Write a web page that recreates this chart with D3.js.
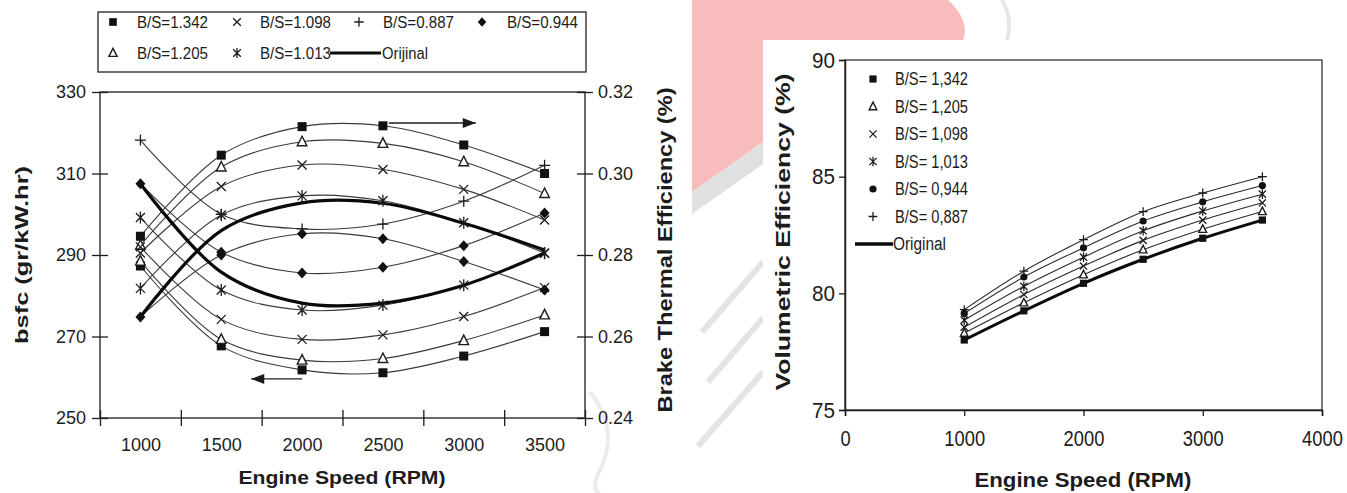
<!DOCTYPE html>
<html><head><meta charset="utf-8">
<script src="https://cdn.jsdelivr.net/npm/d3@7"></script>
<style>body{margin:0;background:#fff}svg{display:block}</style>
</head><body>
<svg id="c" width="1347" height="493"></svg>
<script>
// ---------- DATA ----------
const speeds = [1000, 1500, 2000, 2500, 3000, 3500];
// bsfc (gr/kW.hr), left axis
const bsfc_1342 = [287.3, 267.7, 261.8, 261.1, 265.2, 271.2];
const bsfc_1205 = [288.5, 269.3, 264.2, 264.6, 269.0, 275.3];
const bsfc_1098 = [292.0, 274.2, 269.3, 270.4, 274.9, 282.0];
const bsfc_1013 = [299.2, 281.4, 276.5, 277.7, 282.6, 290.4];
const bsfc_0944 = [307.5, 290.7, 285.6, 287.0, 292.3, 300.3];
const bsfc_0887 = [318.2, 300.0, 296.4, 297.6, 303.2, 312.0];
const bsfc_orig = [307.5, 285.8, 278.2, 278.2, 282.6, 290.5];
// Brake thermal efficiency, right axis
const bte_1342 = [0.2846, 0.3045, 0.3115, 0.3117, 0.3070, 0.3000];
const bte_1205 = [0.2824, 0.3016, 0.3078, 0.3074, 0.3029, 0.2951];
const bte_1098 = [0.2805, 0.2968, 0.3021, 0.3010, 0.2961, 0.2886];
const bte_1013 = [0.2718, 0.2898, 0.2945, 0.2933, 0.2879, 0.2805];
const bte_0944 = [0.2648, 0.2800, 0.2852, 0.2840, 0.2784, 0.2714];
const bte_orig = [0.2648, 0.2860, 0.2928, 0.2927, 0.2878, 0.2812];
const leftYTicks = [250, 270, 290, 310, 330];
const rightYTicks = [0.24, 0.26, 0.28, 0.30, 0.32];

// Volumetric efficiency (%), right chart
const rpm = [1000, 1500, 2000, 2500, 3000, 3500];
const ve_1342 = [78.00, 79.25, 80.43, 81.46, 82.36, 83.14];
const ve_1205 = [78.30, 79.60, 80.80, 81.87, 82.75, 83.51];
const ve_1098 = [78.55, 79.95, 81.17, 82.27, 83.14, 83.88];
const ve_1013 = [78.85, 80.30, 81.55, 82.68, 83.53, 84.25];
const ve_0944 = [79.14, 80.70, 81.95, 83.10, 83.92, 84.62];
const ve_0887 = [79.30, 80.95, 82.30, 83.50, 84.30, 85.00];
const ve_orig = [78.00, 79.25, 80.43, 81.46, 82.36, 83.14];
const veYTicks = [75, 80, 85, 90];
const veXTicks = [0, 1000, 2000, 3000, 4000];

// ---------- HELPERS ----------
const svg = d3.select('#c');
const FF = 'Liberation Sans, Arial, Helvetica, sans-serif';
const FN = 'Liberation Sans Narrow, Arial Narrow, Liberation Sans, Arial, sans-serif';
const INK = '#1c1c1c';

function txt(g, str, x, y, o = {}) {
  const t = g.append('text').attr('x', x).attr('y', y).text(str)
    .attr('font-family', o.ff || FF).attr('font-size', o.fs || 16)
    .attr('font-weight', o.fw || 'normal').attr('text-anchor', o.ta || 'start')
    .attr('fill', o.fill || INK);
  if (o.len) t.attr('textLength', o.len).attr('lengthAdjust', 'spacingAndGlyphs');
  if (o.rot) t.attr('transform', `rotate(${o.rot},${x},${y})`);
  return t;
}

function marker(g, type, x, y, s = 1) {
  const k = s;
  const st = { stroke: INK, 'stroke-width': 1.3, fill: 'none' };
  const ap = (el, a) => { for (const key in a) el.attr(key, a[key]); return el; };
  if (type === 'square') {
    g.append('rect').attr('x', x - 4.5 * k).attr('y', y - 4.5 * k).attr('width', 9 * k).attr('height', 9 * k).attr('fill', '#111');
  } else if (type === 'triangle') {
    ap(g.append('path').attr('d', `M${x},${y - 5.5 * k}L${x + 4.8 * k},${y + 4 * k}L${x - 4.8 * k},${y + 4 * k}Z`), st).attr('fill', '#fff').attr('stroke-width', 1.4);
  } else if (type === 'x') {
    ap(g.append('path').attr('d', `M${x - 4.5 * k},${y - 4.5 * k}L${x + 4.5 * k},${y + 4.5 * k}M${x - 4.5 * k},${y + 4.5 * k}L${x + 4.5 * k},${y - 4.5 * k}`), st);
  } else if (type === 'plus') {
    ap(g.append('path').attr('d', `M${x - 5.5 * k},${y}L${x + 5.5 * k},${y}M${x},${y - 5.5 * k}L${x},${y + 5.5 * k}`), st);
  } else if (type === 'star') {
    ap(g.append('path').attr('d', `M${x - 4.5 * k},${y - 4.5 * k}L${x + 4.5 * k},${y + 4.5 * k}M${x - 4.5 * k},${y + 4.5 * k}L${x + 4.5 * k},${y - 4.5 * k}M${x},${y - 6 * k}L${x},${y + 6 * k}`), st);
  } else if (type === 'diamond') {
    g.append('path').attr('d', `M${x},${y - 5.5 * k}L${x + 5 * k},${y}L${x},${y + 5.5 * k}L${x - 5 * k},${y}Z`).attr('fill', '#111');
  } else if (type === 'circle') {
    g.append('circle').attr('cx', x).attr('cy', y).attr('r', 4.5 * k).attr('fill', '#111');
  }
}

// ---------- WATERMARK (background) ----------
const wm = svg.append('g');
wm.append('path').attr('d', 'M692,0 L948,0 Q972,22 962,44 L763,44 L763,142 L692,192 Z').attr('fill', '#f8bcbc');
wm.append('path').attr('d', 'M692,192 L763,142 L763,164 L692,214 Z').attr('fill', '#e0e0e0');
wm.append('path').attr('d', 'M1002,0 Q1014,20 1006,44').attr('fill', 'none').attr('stroke', '#e6e6e6').attr('stroke-width', 4);
wm.append('path').attr('d', 'M702,332 L763,262 M708,382 L763,318 M698,446 L763,372').attr('stroke', '#e4e4e4').attr('stroke-width', 6).attr('fill', 'none');
wm.append('path').attr('d', 'M590,392 Q620,430 600,470 Q590,490 600,493').attr('stroke', '#ececec').attr('stroke-width', 4).attr('fill', 'none');
// white panels behind texts / right chart
svg.append('rect').attr('x', 648).attr('y', 80).attr('width', 44).attr('height', 352).attr('fill', '#fff');
svg.append('rect').attr('x', 763).attr('y', 40).attr('width', 584).attr('height', 453).attr('fill', '#fff');

// ---------- LEFT CHART ----------
const L = { l: 100, r: 585, t: 92, b: 418 };
const gL = svg.append('g');
const xPt = d3.scalePoint().domain(speeds).range([L.l, L.r]).padding(0.5);
const xEdge = d3.scaleLinear().domain([0, speeds.length]).range([L.l, L.r]);
const yL = d3.scaleLinear().domain([250, 330]).range([L.b, L.t]);
const yR = d3.scaleLinear().domain([0.24, 0.32]).range([L.b, L.t]);

// frame
gL.append('rect').attr('x', L.l).attr('y', L.t).attr('width', L.r - L.l).attr('height', L.b - L.t)
  .attr('fill', 'none').attr('stroke', INK).attr('stroke-width', 1.3);

// left axis
const axL = gL.append('g').attr('transform', `translate(${L.l},0)`)
  .call(d3.axisLeft(yL).tickValues(leftYTicks).tickSize(8).tickPadding(6).tickFormat(d3.format('d')));
axL.selectAll('.tick line').attr('x2', -8).attr('x1', 8).attr('stroke', INK).attr('stroke-width', 1.3);
axL.select('.domain').remove();
axL.selectAll('text').attr('font-family', FF).attr('font-size', 18).attr('fill', INK).attr('x', -14);

// right axis
const axR = gL.append('g').attr('transform', `translate(${L.r},0)`)
  .call(d3.axisRight(yR).tickValues(rightYTicks).tickSize(8).tickPadding(6).tickFormat(d3.format('.2f')));
axR.selectAll('.tick line').attr('x1', -8).attr('x2', 8).attr('stroke', INK).attr('stroke-width', 1.3);
axR.select('.domain').remove();
axR.selectAll('text').attr('font-family', FF).attr('font-size', 18).attr('fill', INK).attr('x', 13);

// bottom ticks at category edges
const axB = gL.append('g').attr('transform', `translate(0,${L.b})`)
  .call(d3.axisBottom(xEdge).tickValues(d3.range(speeds.length + 1)).tickSize(8).tickFormat(''));
axB.selectAll('.tick line').attr('y1', -8).attr('y2', 8).attr('stroke', INK).attr('stroke-width', 1.3);
axB.select('.domain').remove();
const axBL = gL.append('g').attr('transform', `translate(0,${L.b})`)
  .call(d3.axisBottom(xPt).tickSize(0).tickPadding(20));
axBL.select('.domain').remove();
axBL.selectAll('text').attr('font-family', FF).attr('font-size', 18).attr('fill', INK);

// curves
const smooth = d3.curveCatmullRom.alpha(0.5);
const lineL = d3.line().x(d => xPt(d[0])).y(d => yL(d[1])).curve(smooth);
const lineR = d3.line().x(d => xPt(d[0])).y(d => yR(d[1])).curve(smooth);
const zip = arr => speeds.map((s, i) => [s, arr[i]]);
const leftSeries = [
  { b: bsfc_1342, e: bte_1342, m: 'square' },
  { b: bsfc_1205, e: bte_1205, m: 'triangle' },
  { b: bsfc_1098, e: bte_1098, m: 'x' },
  { b: bsfc_1013, e: bte_1013, m: 'star' },
  { b: bsfc_0944, e: bte_0944, m: 'diamond' },
  { b: bsfc_0887, e: null, m: 'plus' }
];
const gC = gL.append('g');
leftSeries.forEach(s => {
  gC.append('path').attr('d', lineL(zip(s.b))).attr('fill', 'none').attr('stroke', '#3a3a3a').attr('stroke-width', 1.1);
  if (s.e) gC.append('path').attr('d', lineR(zip(s.e))).attr('fill', 'none').attr('stroke', '#3a3a3a').attr('stroke-width', 1.1);
});
gC.append('path').attr('d', lineL(zip(bsfc_orig))).attr('fill', 'none').attr('stroke', '#0a0a0a').attr('stroke-width', 3.2);
gC.append('path').attr('d', lineR(zip(bte_orig))).attr('fill', 'none').attr('stroke', '#0a0a0a').attr('stroke-width', 3.2);
leftSeries.forEach(s => {
  speeds.forEach((sp, i) => {
    marker(gC, s.m, xPt(sp), yL(s.b[i]));
    if (s.e) marker(gC, s.m, xPt(sp), yR(s.e[i]));
  });
});

// annotation arrows
const arrow = (x1, x2, y) => {
  gL.append('line').attr('x1', x1).attr('x2', x2).attr('y1', y).attr('y2', y).attr('stroke', INK).attr('stroke-width', 1.4);
  const d = x2 > x1 ? 1 : -1;
  gL.append('path').attr('d', `M${x2},${y}L${x2 - d * 13},${y - 5}L${x2 - d * 13},${y + 5}Z`).attr('fill', INK);
};
arrow(xPt(2500) + 6, xPt(3000) + 12, yR(0.3124));
arrow(xPt(2000), xPt(1500) + 30, yL(259.6));

// axis titles
txt(gL, 'bsfc (gr/kW.hr)', 28, (L.t + L.b) / 2, { fs: 19, fw: 'bold', ta: 'middle', rot: -90, len: 178 });
txt(gL, 'Brake Thermal Efficiency (%)', 672, 250, { fs: 21, fw: 'bold', ta: 'middle', rot: -90, len: 325 });
txt(gL, 'Engine Speed (RPM)', 342, 484, { fs: 19, fw: 'bold', ta: 'middle', len: 207 });

// legend (boxed)
const gLg = gL.append('g');
gLg.append('rect').attr('x', 98).attr('y', 12).attr('width', 488).attr('height', 60).attr('fill', '#fff').attr('stroke', '#333').attr('stroke-width', 1.4);
const legL = [
  { m: 'square', t: 'B/S=1.342', mx: 113, tx: 137, y: 22 },
  { m: 'x', t: 'B/S=1.098', mx: 237, tx: 260, y: 22 },
  { m: 'plus', t: 'B/S=0.887', mx: 359, tx: 383, y: 22 },
  { m: 'diamond', t: 'B/S=0.944', mx: 482, tx: 507, y: 22 },
  { m: 'triangle', t: 'B/S=1.205', mx: 113, tx: 137, y: 53 },
  { m: 'star', t: 'B/S=1.013', mx: 237, tx: 260, y: 53 }
];
legL.forEach(d => {
  marker(gLg, d.m, d.mx, d.y, 0.85);
  txt(gLg, d.t, d.tx, d.y + 6, { fs: 16, len: 71 });
});
gLg.append('line').attr('x1', 330).attr('x2', 381).attr('y1', 53).attr('y2', 53).attr('stroke', '#0a0a0a').attr('stroke-width', 3.2);
txt(gLg, 'Orijinal', 382, 59, { fs: 16, len: 46 });

// ---------- RIGHT CHART ----------
const R = { l: 845, r: 1322, t: 60, b: 410 };
const gR = svg.append('g');
const xV = d3.scaleLinear().domain([0, 4000]).range([R.l, R.r]);
const yV = d3.scaleLinear().domain([75, 90]).range([R.b, R.t]);

gR.append('rect').attr('x', R.l).attr('y', R.t).attr('width', R.r - R.l).attr('height', R.b - R.t)
  .attr('fill', 'none').attr('stroke', '#333').attr('stroke-width', 1.3);
const aVL = gR.append('g').attr('transform', `translate(${R.l},0)`)
  .call(d3.axisLeft(yV).tickValues(veYTicks).tickSize(6).tickPadding(4));
aVL.select('.domain').attr('stroke', INK).attr('stroke-width', 1.5);
aVL.selectAll('.tick line').attr('stroke', INK).attr('stroke-width', 1.3);
aVL.selectAll('text').attr('font-family', FN).attr('font-size', 22).attr('fill', INK)
  .attr('textLength', 23).attr('lengthAdjust', 'spacingAndGlyphs');
const aVB = gR.append('g').attr('transform', `translate(0,${R.b})`)
  .call(d3.axisBottom(xV).tickValues(veXTicks).tickSize(6).tickPadding(14).tickFormat(d3.format('d')));
aVB.select('.domain').attr('stroke', INK).attr('stroke-width', 1.5);
aVB.selectAll('.tick line').attr('stroke', INK).attr('stroke-width', 1.3);
aVB.selectAll('text').attr('font-family', FN).attr('font-size', 22).attr('fill', INK)
  .each(function (d) { d3.select(this).attr('textLength', String(d).length * 10.2).attr('lengthAdjust', 'spacingAndGlyphs'); });

const lineV = d3.line().x(d => xV(d[0])).y(d => yV(d[1])).curve(smooth);
const zipV = arr => rpm.map((s, i) => [s, arr[i]]);
const veSeries = [
  { v: ve_0887, m: 'plus' },
  { v: ve_0944, m: 'circle' },
  { v: ve_1013, m: 'star' },
  { v: ve_1098, m: 'x' },
  { v: ve_1205, m: 'triangle' },
  { v: ve_1342, m: 'square' }
];
veSeries.forEach(s => {
  gR.append('path').attr('d', lineV(zipV(s.v))).attr('fill', 'none').attr('stroke', '#2a2a2a').attr('stroke-width', 1.1);
});
gR.append('path').attr('d', lineV(zipV(ve_orig))).attr('fill', 'none').attr('stroke', '#0a0a0a').attr('stroke-width', 3);
veSeries.forEach(s => {
  rpm.forEach((r, i) => marker(gR, s.m, xV(r), yV(s.v[i]), 0.8));
});

// legend (no box)
const legR = [
  { m: 'square', t: 'B/S= 1,342' }, { m: 'triangle', t: 'B/S= 1,205' }, { m: 'x', t: 'B/S= 1,098' },
  { m: 'star', t: 'B/S= 1,013' }, { m: 'circle', t: 'B/S= 0,944' }, { m: 'plus', t: 'B/S= 0,887' }
];
const legY = d3.scaleLinear().domain([0, 6]).range([79, 244]);
legR.forEach((d, i) => {
  marker(gR, d.m, 873, legY(i), 0.8);
  txt(gR, d.t, 895, legY(i) + 6, { ff: FN, fs: 18, len: 73 });
});
gR.append('line').attr('x1', 855).attr('x2', 893).attr('y1', legY(6)).attr('y2', legY(6)).attr('stroke', '#0a0a0a').attr('stroke-width', 3.5);
txt(gR, 'Original', 893, legY(6) + 6, { ff: FN, fs: 18, len: 53 });

txt(gR, 'Volumetric Efficiency (%)', 790, 232, { fs: 21, fw: 'bold', ta: 'middle', rot: -90, len: 317 });
txt(gR, 'Engine Speed (RPM)', 1083, 487, { fs: 20, fw: 'bold', ta: 'middle', len: 217 });
</script>
</body></html>
